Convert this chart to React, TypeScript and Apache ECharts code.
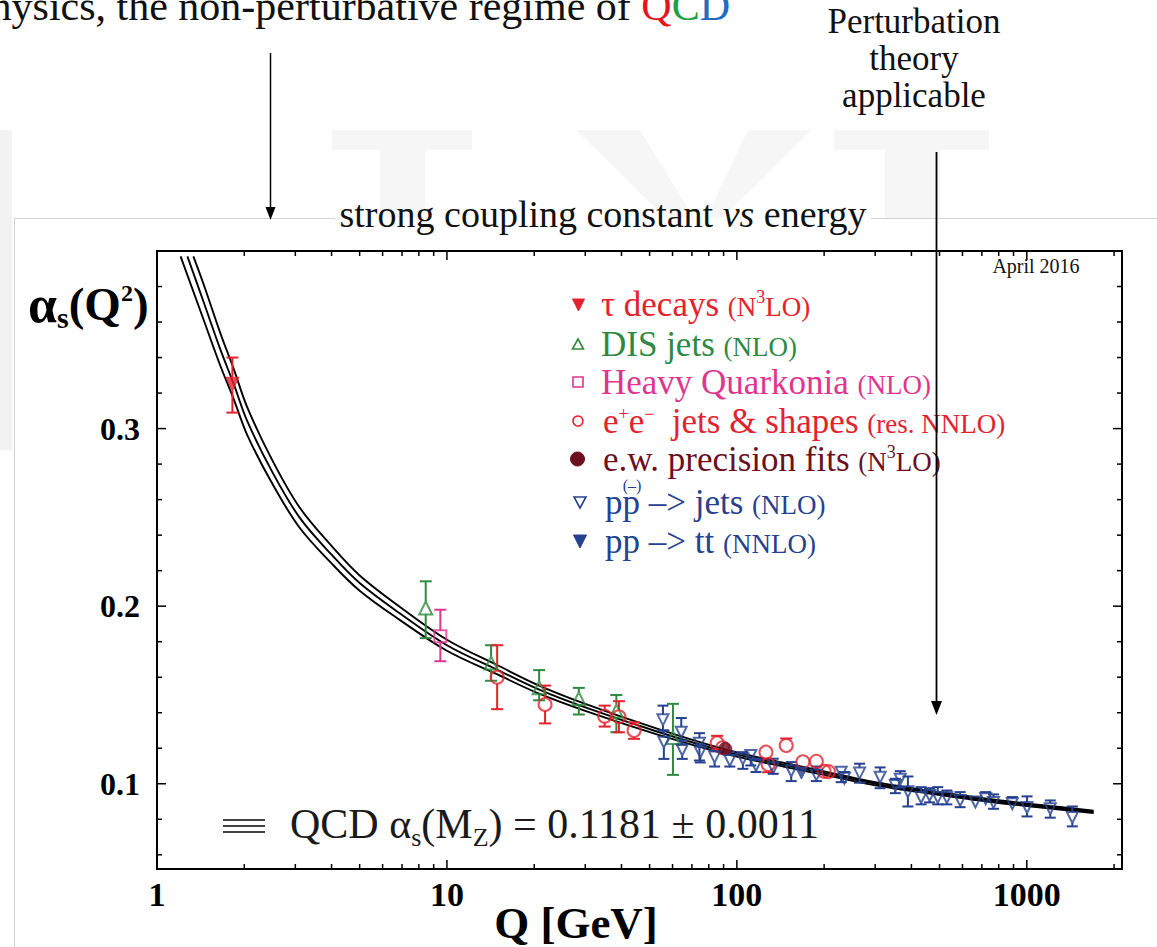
import React, { useEffect, useRef } from "react";
import * as echarts from "echarts";

const SERIF = '"Liberation Serif", "Times New Roman", Times, serif';

const RED = "#e4222d";
const GREEN = "#2e8a40";
const MAGENTA = "#e0358e";
const MAROON = "#6c0f1e";
const BLUE = "#26418f";

// Axis ranges
const Q_MIN = 1;
const Q_MAX = 2130;
const ALPHA_MIN = 0.052;
const ALPHA_MAX = 0.4;

// Axis ticks and tick labels
const xTickValues = [1, 2, 3, 4, 5, 6, 7, 8, 9, 10, 20, 30, 40, 50, 60, 70, 80, 90, 100, 200, 300, 400, 500, 600, 700, 800, 900, 1000, 2000];
const xMajorTicks = [1, 10, 100, 1000];
const xTickLabels = ["1", "10", "100", "1000"];
const yTickValues = [0.06, 0.08, 0.1, 0.12, 0.14, 0.16, 0.18, 0.2, 0.22, 0.24, 0.26, 0.28, 0.3, 0.32, 0.34, 0.36, 0.38];
const yMajorTicks = [0.1, 0.2, 0.3];
const yTickLabels = ["0.1", "0.2", "0.3"];

// QCD running coupling band, alpha_s(Mz) = 0.1181 +- 0.0011
const bandStartQ = [1.206, 1.273, 1.335]; // lower, central, upper line where they enter the frame
const bandStartAlpha = 0.397;
const curveQ = [1.45, 1.65, 1.84, 2.05, 2.5, 3.1, 4, 5, 6.87, 10, 15, 20.8, 30, 54, 91.2, 133, 200, 300, 500, 800, 1200, 1700];
const curveCentral = [0.371, 0.345, 0.325, 0.304, 0.2755, 0.25, 0.229, 0.213, 0.196, 0.178, 0.164, 0.153, 0.143, 0.129, 0.1181, 0.112, 0.106, 0.1, 0.0945, 0.09, 0.0868, 0.0842];
const curveUpper = [0.381, 0.3542, 0.3335, 0.3118, 0.2821, 0.2557, 0.2339, 0.2173, 0.1997, 0.1811, 0.1666, 0.1553, 0.145, 0.1306, 0.1193, 0.1131, 0.107, 0.1009, 0.0953, 0.0908, 0.0875, 0.0849];
const curveLower = [0.361, 0.3358, 0.3165, 0.2962, 0.2689, 0.2443, 0.2241, 0.2087, 0.1923, 0.1749, 0.1614, 0.1507, 0.141, 0.1274, 0.1169, 0.1109, 0.105, 0.0991, 0.0937, 0.0892, 0.0861, 0.0835];

// tau decays
const tauQ = [1.82];
const tauAlpha = [0.325];
const tauHigh = [0.34];
const tauLow = [0.309];

// DIS jets
const disQ = [8.45, 14.2, 20.8, 28.5, 38.4, 60.2];
const disAlpha = [0.199, 0.168, 0.154, 0.148, 0.141, 0.126];
const disHigh = [0.214, 0.178, 0.164, 0.154, 0.15, 0.145];
const disLow = [0.182, 0.158, 0.147, 0.139, 0.129, 0.105];

// Heavy quarkonia
const quarkoniaQ = [9.49];
const quarkoniaAlpha = [0.183];
const quarkoniaHigh = [0.198];
const quarkoniaLow = [0.169];

// e+e- jets & shapes
const eeQ = [14.9, 21.8, 35.0, 39.2, 44.2, 85.5, 89.3, 126, 128.2, 148, 169, 188, 200, 207];
const eeAlpha = [0.16, 0.1446, 0.138, 0.1377, 0.13, 0.123, 0.1203, 0.1178, 0.1108, 0.1215, 0.1124, 0.1126, 0.107, 0.1068];
const eeHigh = [0.178, 0.1553, 0.144, 0.1465, 0.1346, 0.127, 0.124, 0.1215, 0.1136, 0.1255, 0.1159, 0.1159, 0.11, 0.1098];
const eeLow = [0.142, 0.134, 0.1322, 0.129, 0.1253, 0.119, 0.1165, 0.1141, 0.1065, 0.118, 0.1088, 0.1095, 0.1043, 0.104];

// electroweak precision fits
const ewQ = [91.2];
const ewAlpha = [0.1196];
const ewHigh = [0.1226];
const ewLow = [0.1166];

// p pbar -> jets
const ppJetsQ = [55.6, 56.0, 64.3, 64.8, 74.3, 74.8, 83.8, 94.6, 104.9, 111.7, 116.4, 133.5, 154, 188, 229, 235, 265, 312, 352, 366, 389, 432, 462, 493, 530, 589, 665, 721, 768, 891, 1002, 1205, 1436];
const ppJetsAlpha = [0.136, 0.1234, 0.129, 0.119, 0.1228, 0.1178, 0.115, 0.1131, 0.114, 0.1159, 0.1103, 0.109, 0.1072, 0.105, 0.1065, 0.1031, 0.106, 0.1037, 0.099, 0.1025, 0.0955, 0.0923, 0.0934, 0.0923, 0.0921, 0.0906, 0.0897, 0.0916, 0.0894, 0.0888, 0.0866, 0.0859, 0.081];
const ppJetsHigh = [0.144, 0.13, 0.137, 0.1244, 0.1285, 0.122, 0.1187, 0.1178, 0.1178, 0.1187, 0.1141, 0.1141, 0.1122, 0.1097, 0.1097, 0.1066, 0.1113, 0.1092, 0.1028, 0.1071, 0.1041, 0.0981, 0.0975, 0.0981, 0.0962, 0.0953, 0.0925, 0.0953, 0.094, 0.0925, 0.0929, 0.0906, 0.0872];
const ppJetsLow = [0.13, 0.114, 0.122, 0.114, 0.1131, 0.112, 0.1097, 0.1097, 0.1084, 0.1103, 0.1066, 0.1056, 0.1015, 0.1015, 0.1009, 0.1003, 0.1006, 0.0975, 0.0947, 0.098, 0.0872, 0.0884, 0.0895, 0.0884, 0.0884, 0.0868, 0.087, 0.0884, 0.0859, 0.0859, 0.0816, 0.0809, 0.076];

// pp -> t tbar
const ttQ = [167];
const ttAlpha = [0.106];
const ttHigh = [0.1085];
const ttLow = [0.1035];

const near = (a: number, b: number) => Math.abs(a - b) < 1e-9;

function rows(q: number[], a: number[], hi: number[], lo: number[]) {
  return q.map((v, i) => [v, a[i], hi[i], lo[i]]);
}

function bandLine(startQ: number, values: number[]) {
  return {
    type: "line",
    data: [[startQ, bandStartAlpha], ...curveQ.map((q, i) => [q, values[i]])],
    showSymbol: false,
    symbol: "none",
    smooth: 0.35,
    lineStyle: { color: "#000", width: 1.9 },
    z: 2,
    silent: true,
  };
}

function errorBars(data: number[][], color: string, gap: number, capW: number) {
  return {
    type: "custom",
    data,
    silent: true,
    z: 3,
    encode: { x: 0, y: 1 },
    renderItem: (params: any, api: any) => {
      const q = api.value(0);
      const c = api.coord([q, api.value(1)]);
      const t = api.coord([q, api.value(2)]);
      const b = api.coord([q, api.value(3)]);
      const st = { stroke: color, lineWidth: 2, fill: "none" };
      const children: any[] = [];
      if (c[1] - gap > t[1] + 0.5) {
        children.push({ type: "line", shape: { x1: c[0], y1: t[1], x2: c[0], y2: c[1] - gap }, style: st });
        children.push({ type: "line", shape: { x1: c[0] - capW / 2, y1: t[1], x2: c[0] + capW / 2, y2: t[1] }, style: st });
      }
      if (b[1] > c[1] + gap + 0.5) {
        children.push({ type: "line", shape: { x1: c[0], y1: c[1] + gap, x2: c[0], y2: b[1] }, style: st });
        children.push({ type: "line", shape: { x1: c[0] - capW / 2, y1: b[1], x2: c[0] + capW / 2, y2: b[1] }, style: st });
      }
      return { type: "group", children };
    },
  };
}

function markers(q: number[], a: number[], symbol: string, size: any, color: string, filled: boolean, rotate = 0) {
  return {
    type: "scatter",
    data: q.map((v, i) => [v, a[i]]),
    symbol,
    symbolSize: size,
    symbolRotate: rotate,
    itemStyle: filled
      ? { color, borderColor: color, borderWidth: 1 }
      : { color: "rgba(255,255,255,0)", borderColor: color, borderWidth: 2 },
    z: 4,
    silent: true,
  };
}

const TICK_STYLE = { stroke: "#000", lineWidth: 1.5 };

const xTickSeries = {
  type: "custom",
  silent: true,
  z: 5,
  data: xTickValues.map((q) => [q, 0.2]),
  encode: { x: 0, y: 1 },
  renderItem: (params: any, api: any) => {
    const q = api.value(0);
    const cs = params.coordSys;
    const p = api.coord([q, 0.2]);
    const mi = xMajorTicks.findIndex((m) => near(m, q));
    const len = mi >= 0 ? 9 : 5;
    const bottom = cs.y + cs.height;
    const children: any[] = [
      { type: "line", shape: { x1: p[0], y1: bottom, x2: p[0], y2: bottom - len }, style: TICK_STYLE },
      { type: "line", shape: { x1: p[0], y1: cs.y, x2: p[0], y2: cs.y + len }, style: TICK_STYLE },
    ];
    if (mi >= 0) {
      children.push({
        type: "text",
        x: p[0],
        y: bottom + 25,
        style: {
          text: xTickLabels[mi],
          font: `bold 34px ${SERIF}`,
          fill: "#000",
          align: "center",
          verticalAlign: "middle",
          textAlign: "center",
          textVerticalAlign: "middle",
        },
      });
    }
    return { type: "group", children };
  },
};

const yTickSeries = {
  type: "custom",
  silent: true,
  z: 5,
  data: yTickValues.map((v) => [1, v]),
  encode: { x: 0, y: 1 },
  renderItem: (params: any, api: any) => {
    const v = api.value(1);
    const cs = params.coordSys;
    const p = api.coord([1, v]);
    const mi = yMajorTicks.findIndex((m) => near(m, v));
    const len = mi >= 0 ? 9 : 5;
    const right = cs.x + cs.width;
    const children: any[] = [
      { type: "line", shape: { x1: cs.x, y1: p[1], x2: cs.x + len, y2: p[1] }, style: TICK_STYLE },
      { type: "line", shape: { x1: right, y1: p[1], x2: right - len, y2: p[1] }, style: TICK_STYLE },
    ];
    if (mi >= 0) {
      children.push({
        type: "text",
        x: cs.x - 17,
        y: p[1],
        style: {
          text: yTickLabels[mi],
          font: `bold 32px ${SERIF}`,
          fill: "#000",
          align: "right",
          verticalAlign: "middle",
          textAlign: "right",
          textVerticalAlign: "middle",
        },
      });
    }
    return { type: "group", children };
  },
};

function richText(x: number, y: number, text: string, rich: any, align = "left", z = 20) {
  return {
    type: "text",
    x,
    y,
    z,
    silent: true,
    style: {
      text,
      rich,
      align,
      verticalAlign: "middle",
      textAlign: align,
      textVerticalAlign: "middle",
    },
  };
}

function legendRich(color: string) {
  return {
    b: { fontSize: 35, fontFamily: SERIF, fill: color },
    s: { fontSize: 27, fontFamily: SERIF, fill: color, padding: [5, 0, 0, 0] },
    u: { fontSize: 18, fontFamily: SERIF, fill: color, padding: [0, 0, 15, 0] },
  };
}

const legendRows = [
  { x: 601, y: 304, color: RED, text: "{b|τ decays }{s|(N}{u|3}{s|LO)}" },
  { x: 601, y: 344, color: GREEN, text: "{b|DIS jets }{s|(NLO)}" },
  { x: 601, y: 382, color: MAGENTA, text: "{b|Heavy Quarkonia }{s|(NLO)}" },
  { x: 603, y: 421, color: RED, text: "{b|e}{u|+}{b|e}{u|−}{b|  jets & shapes }{s|(res. NNLO)}" },
  { x: 603, y: 459, color: MAROON, text: "{b|e.w. precision fits }{s|(N}{u|3}{s|LO)}" },
  { x: 605, y: 502, color: BLUE, text: "{b|pp –> jets }{s|(NLO)}" },
  { x: 605, y: 541, color: BLUE, text: "{b|pp –> tt }{s|(NNLO)}" },
];

const legendMarkers = [
  { type: "polygon", shape: { points: [[572.5, 299], [584.5, 299], [578.5, 311]] }, style: { fill: RED, stroke: RED, lineWidth: 1 } },
  { type: "polygon", shape: { points: [[572.5, 349], [583.5, 349], [578, 339]] }, style: { fill: "none", stroke: GREEN, lineWidth: 1.6 } },
  { type: "rect", shape: { x: 573, y: 377, width: 10, height: 10 }, style: { fill: "none", stroke: MAGENTA, lineWidth: 1.6 } },
  { type: "circle", shape: { cx: 578, cy: 421, r: 5 }, style: { fill: "none", stroke: RED, lineWidth: 1.6 } },
  { type: "circle", shape: { cx: 577.5, cy: 459, r: 7 }, style: { fill: MAROON, stroke: MAROON, lineWidth: 1 } },
  { type: "polygon", shape: { points: [[574, 497], [586, 497], [580, 508]] }, style: { fill: "none", stroke: BLUE, lineWidth: 1.6 } },
  { type: "polygon", shape: { points: [[573.5, 535], [586.5, 535], [580, 548]] }, style: { fill: BLUE, stroke: BLUE, lineWidth: 1 } },
];

const WATERMARK = "#f6f6f6";
const PANEL_EDGE = "#d2d2d2";

const graphic: any[] = [
  // faint background shapes behind the slide panel
  { type: "rect", z: 0, silent: true, shape: { x: 0, y: 130, width: 12, height: 320 }, style: { fill: "#f2f2f2" } },
  { type: "polygon", z: 0, silent: true, shape: { points: [[332, 130], [472, 130], [472, 150], [425, 150], [425, 218], [380, 218], [380, 150], [332, 150]] }, style: { fill: WATERMARK } },
  { type: "polygon", z: 0, silent: true, shape: { points: [[576, 130], [640, 130], [694, 218], [666, 218]] }, style: { fill: WATERMARK } },
  { type: "polygon", z: 0, silent: true, shape: { points: [[748, 130], [812, 130], [722, 218], [706, 218]] }, style: { fill: WATERMARK } },
  { type: "polygon", z: 0, silent: true, shape: { points: [[834, 130], [989, 130], [989, 150], [940, 150], [940, 218], [885, 218], [885, 150], [834, 150]] }, style: { fill: WATERMARK } },
  // slide panel
  { type: "rect", z: 1, silent: true, shape: { x: 14.5, y: 218.5, width: 1160, height: 740 }, style: { fill: "#fff" } },
  { type: "line", z: 1, silent: true, shape: { x1: 14.5, y1: 218.5, x2: 14.5, y2: 947 }, style: { stroke: PANEL_EDGE, lineWidth: 1 } },
  { type: "line", z: 1, silent: true, shape: { x1: 14.5, y1: 218.5, x2: 335, y2: 218.5 }, style: { stroke: PANEL_EDGE, lineWidth: 1 } },
  { type: "line", z: 1, silent: true, shape: { x1: 871, y1: 218.5, x2: 1157, y2: 218.5 }, style: { stroke: PANEL_EDGE, lineWidth: 1 } },
  // slide texts
  richText(730, 6, "{k|physics, the non-perturbative regime of }{r|Q}{g|C}{d|D}", {
    k: { fontSize: 42, fontFamily: SERIF, fill: "#111" },
    r: { fontSize: 42, fontFamily: SERIF, fill: "#e8141c" },
    g: { fontSize: 42, fontFamily: SERIF, fill: "#1f9e48" },
    d: { fontSize: 42, fontFamily: SERIF, fill: "#1c6cc0" },
  }, "right"),
  richText(914, 21, "{k|Perturbation}", { k: { fontSize: 35, fontFamily: SERIF, fill: "#111" } }, "center"),
  richText(914, 58, "{k|theory}", { k: { fontSize: 35, fontFamily: SERIF, fill: "#111" } }, "center"),
  richText(914, 95, "{k|applicable}", { k: { fontSize: 35, fontFamily: SERIF, fill: "#111" } }, "center"),
  richText(603, 214, "{k|strong coupling constant }{i|vs}{k| energy}", {
    k: { fontSize: 38, fontFamily: SERIF, fill: "#111" },
    i: { fontSize: 38, fontFamily: SERIF, fontStyle: "italic", fill: "#111" },
  }, "center", 3),
  // arrows
  { type: "line", z: 60, silent: true, shape: { x1: 270.5, y1: 53, x2: 270.5, y2: 209 }, style: { stroke: "#000", lineWidth: 1.5 } },
  { type: "polygon", z: 60, silent: true, shape: { points: [[265.5, 207], [275.5, 207], [270.5, 220]] }, style: { fill: "#000" } },
  { type: "line", z: 60, silent: true, shape: { x1: 936.5, y1: 152, x2: 936.5, y2: 704 }, style: { stroke: "#000", lineWidth: 1.8 } },
  { type: "polygon", z: 60, silent: true, shape: { points: [[931, 701], [942, 701], [936.5, 715]] }, style: { fill: "#000" } },
  // axis titles
  richText(28, 304, "{a|α}{d|s}{m|(Q}{u|2}{m|)}", {
    a: { fontSize: 52, fontWeight: "bold", fontFamily: SERIF, fill: "#000" },
    m: { fontSize: 47, fontWeight: "bold", fontFamily: SERIF, fill: "#000" },
    d: { fontSize: 30, fontWeight: "bold", fontFamily: SERIF, fill: "#000", padding: [26, 0, 0, 0] },
    u: { fontSize: 24, fontWeight: "bold", fontFamily: SERIF, fill: "#000", padding: [0, 0, 22, 0] },
  }),
  richText(576, 923, "{m|Q [GeV]}", { m: { fontSize: 45, fontWeight: "bold", fontFamily: SERIF, fill: "#000" } }, "center"),
  richText(1036, 266, "{m|April 2016}", { m: { fontSize: 20, fontFamily: SERIF, fill: "#111" } }, "center"),
  // legend
  ...legendMarkers.map((m) => ({ ...m, z: 20, silent: true })),
  ...legendRows.map((r) => richText(r.x, r.y, r.text, legendRich(r.color))),
  richText(632, 485, "{m|(–)}", { m: { fontSize: 16, fontFamily: SERIF, fill: BLUE } }, "center"),
  // band legend
  { type: "line", z: 20, silent: true, shape: { x1: 223, y1: 820, x2: 265, y2: 820 }, style: { stroke: "#444", lineWidth: 2 } },
  { type: "line", z: 20, silent: true, shape: { x1: 223, y1: 826, x2: 265, y2: 826 }, style: { stroke: "#444", lineWidth: 2 } },
  { type: "line", z: 20, silent: true, shape: { x1: 223, y1: 832, x2: 265, y2: 832 }, style: { stroke: "#444", lineWidth: 2 } },
  richText(290, 824, "{m|QCD α}{d|s}{m|(M}{d|Z}{m|) = 0.1181 ± 0.0011}", {
    m: { fontSize: 42, fontFamily: SERIF, fill: "#1a1a1a" },
    d: { fontSize: 26, fontFamily: SERIF, fill: "#1a1a1a", padding: [26, 0, 0, 0] },
  }),
];

const option: any = {
  animation: false,
  backgroundColor: "#ffffff",
  grid: {
    left: 157,
    top: 251,
    width: 965,
    height: 618,
    show: true,
    borderColor: "#000",
    borderWidth: 2,
    backgroundColor: "rgba(255,255,255,0)",
    z: 2,
  },
  xAxis: {
    type: "log",
    logBase: 10,
    min: Q_MIN,
    max: Q_MAX,
    axisLine: { show: false },
    axisTick: { show: false },
    axisLabel: { show: false },
    splitLine: { show: false },
  },
  yAxis: {
    type: "value",
    min: ALPHA_MIN,
    max: ALPHA_MAX,
    axisLine: { show: false },
    axisTick: { show: false },
    axisLabel: { show: false },
    splitLine: { show: false },
  },
  graphic,
  series: [
    bandLine(bandStartQ[0], curveLower),
    bandLine(bandStartQ[1], curveCentral),
    bandLine(bandStartQ[2], curveUpper),
    errorBars(rows(tauQ, tauAlpha, tauHigh, tauLow), RED, 7, 12),
    errorBars(rows(disQ, disAlpha, disHigh, disLow), GREEN, 6.5, 12),
    errorBars(rows(quarkoniaQ, quarkoniaAlpha, quarkoniaHigh, quarkoniaLow), MAGENTA, 6, 12),
    errorBars(rows(eeQ, eeAlpha, eeHigh, eeLow), RED, 6.5, 12),
    errorBars(rows(ewQ, ewAlpha, ewHigh, ewLow), MAROON, 6.5, 12),
    errorBars(rows(ppJetsQ, ppJetsAlpha, ppJetsHigh, ppJetsLow), BLUE, 5.5, 11),
    errorBars(rows(ttQ, ttAlpha, ttHigh, ttLow), BLUE, 5.5, 11),
    markers(tauQ, tauAlpha, "triangle", [13, 14], RED, true, 180),
    markers(disQ, disAlpha, "triangle", [13, 13], GREEN, false),
    markers(quarkoniaQ, quarkoniaAlpha, "rect", [12, 12], MAGENTA, false),
    markers(eeQ, eeAlpha, "circle", 13, RED, false),
    markers(ewQ, ewAlpha, "circle", 13, MAROON, true),
    markers(ppJetsQ, ppJetsAlpha, "triangle", [11, 11], BLUE, false, 180),
    markers(ttQ, ttAlpha, "triangle", [12, 12], BLUE, true, 180),
    xTickSeries,
    yTickSeries,
  ],
};

export default function App() {
  const ref = useRef<HTMLDivElement | null>(null);
  useEffect(() => {
    if (!ref.current) return;
    const chart = echarts.init(ref.current, undefined, { renderer: "svg" });
    chart.setOption(option);
    return () => chart.dispose();
  }, []);
  return (
    <div
      ref={ref}
      style={{ position: "fixed", left: 0, top: 0, width: 1157, height: 947, background: "#fff" }}
    />
  );
}
